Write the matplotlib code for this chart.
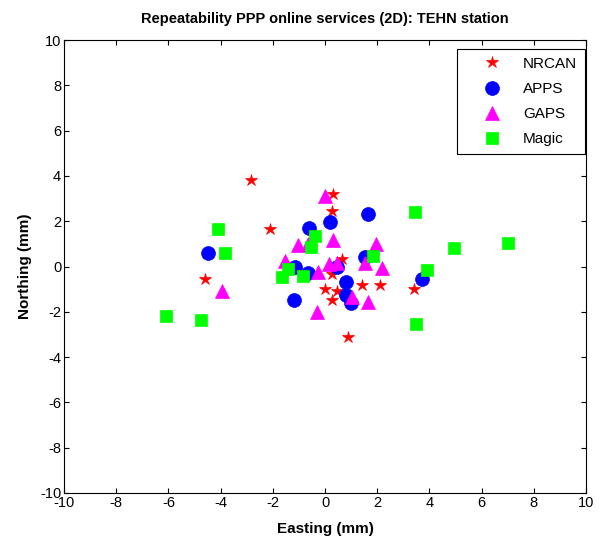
import matplotlib
matplotlib.use("Agg")
import matplotlib.pyplot as plt

plt.rcParams['font.family'] = ['Liberation Sans', 'DejaVu Sans']
plt.rcParams['axes.unicode_minus'] = False

# NRCAN (red stars)
nrcan_e = [-2.85, -2.1, -4.6, 0.3, 0.25, 0.65, 0.25, 0.0, 0.45, 0.25, 1.4, 2.1, 3.4, 0.9]
nrcan_n = [3.8, 1.65, -0.55, 3.2, 2.45, 0.35, -0.35, -1.0, -1.1, -1.5, -0.8, -0.8, -1.0, -3.1]

# APPS (blue circles)
apps_e = [-4.5, -0.6, 0.2, 1.65, 1.55, 0.45, 0.8, 0.8, 1.0, 3.7, -1.2, -1.15, -0.65]
apps_n = [0.6, 1.7, 1.95, 2.3, 0.4, 0.0, -0.7, -1.25, -1.6, -0.55, -1.5, 0.0, -0.3]

# GAPS (magenta triangles)
gaps_e = [-3.95, 0.0, -1.05, -0.65, 0.3, 1.95, 1.55, 2.2, -0.25, 0.15, 0.45, 1.05, 1.65, -0.3, -1.55]
gaps_n = [-1.1, 3.1, 0.95, 1.0, 1.15, 1.0, 0.15, -0.05, -0.25, 0.1, 0.15, -1.35, -1.55, -2.0, 0.25]

# Magic (green squares)
magic_e = [-4.1, -3.85, -6.1, -4.75, -0.4, -0.55, -1.4, -1.65, -0.85, 1.85, 3.45, 4.95, 7.0, 3.9, 3.5]
magic_n = [1.65, 0.6, -2.2, -2.35, 1.35, 0.85, -0.1, -0.45, -0.4, 0.45, 2.4, 0.8, 1.05, -0.15, -2.55]

ticks = list(range(-10, 11, 2))

fig = plt.figure(figsize=(6.03, 5.39), dpi=100)
ax = fig.add_axes([64/603, 1-493/539, (586-64)/603, (493-40)/539])

ax.plot(nrcan_e, nrcan_n, linestyle='none', marker='*', color='red', markersize=9,
        markeredgewidth=0.5, label='NRCAN')
ax.plot(apps_e, apps_n, linestyle='none', marker='o', color='blue', markersize=10,
        markeredgewidth=0.5, label='APPS')
ax.plot(gaps_e, gaps_n, linestyle='none', marker='^', color='magenta', markersize=10,
        markeredgewidth=0.5, label='GAPS')
ax.plot(magic_e, magic_n, linestyle='none', marker='s', color='#00ff00', markersize=8,
        markeredgewidth=0.5, label='Magic')

ax.set_xlim(-10, 10)
ax.set_ylim(-10, 10)
ax.set_xticks(ticks)
ax.set_yticks(ticks)
ax.tick_params(direction='in', top=True, right=True, labelsize=10.5, length=3.5,
               width=0.8, pad=2)
for s in ax.spines.values():
    s.set_linewidth(0.8)

ax.set_title('Repeatability PPP online services (2D): TEHN station', fontsize=10.5,
             fontweight='bold', pad=12)
ax.set_xlabel('Easting (mm)', fontsize=11, fontweight='bold', labelpad=9)
ax.set_ylabel('Northing (mm)', fontsize=11, fontweight='bold', labelpad=6)

leg = ax.legend(loc='upper right', bbox_to_anchor=(0.998, 0.980), borderaxespad=0,
                fontsize=11, fancybox=False, edgecolor='black', framealpha=1,
                labelspacing=0.73, handletextpad=0.25, borderpad=0.5,
                handlelength=3.55)
leg.get_frame().set_linewidth(0.8)

fig.savefig('out.png', dpi=100)
